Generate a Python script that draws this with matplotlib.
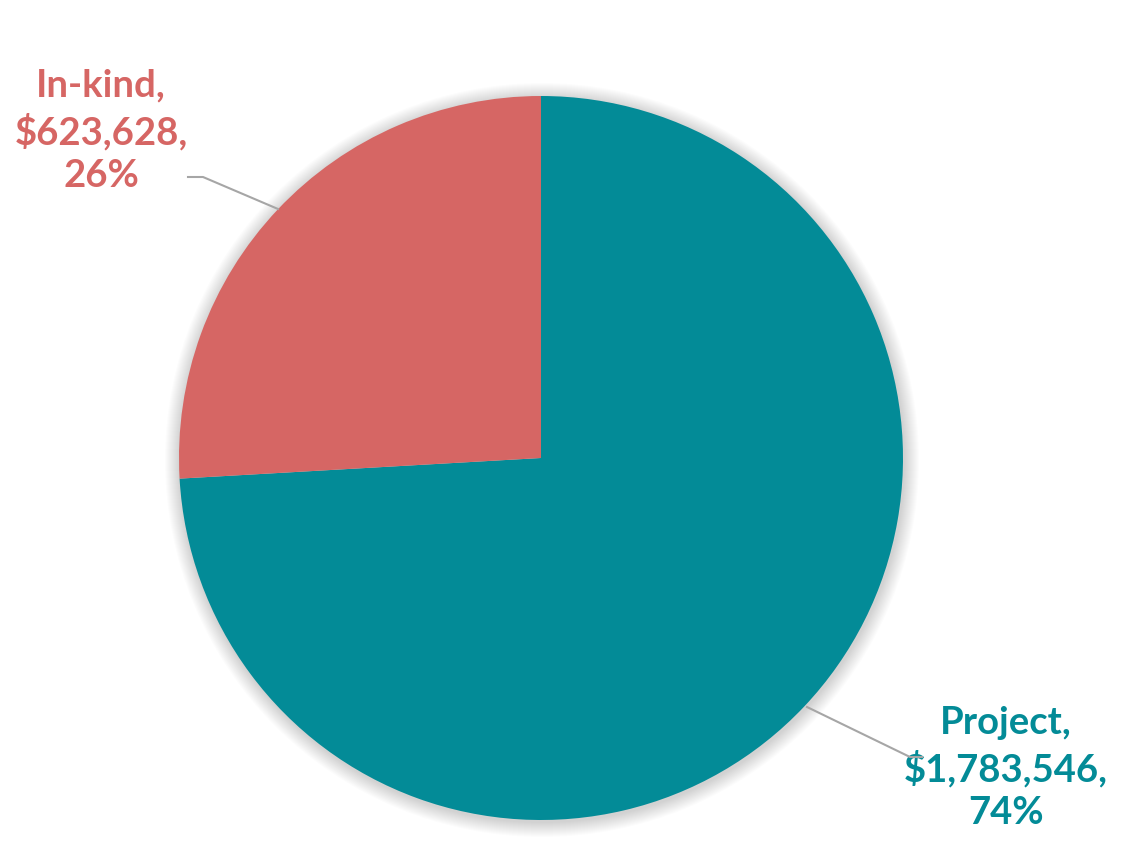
import matplotlib.pyplot as plt
from matplotlib.patches import Circle

labels = ['Project', 'In-kind']
amounts = [1783546, 623628]
colors = ['#038B97', '#D66664']

W, H = 1127, 851
cx, cy, r = 541, H - 458, 362

fig = plt.figure(figsize=(W / 100, H / 100), dpi=100)
ax = fig.add_axes([0, 0, 1, 1])

# soft shadow under the pie
for k in range(1, 16):
    ax.add_patch(Circle((cx + 1, cy - 2), r + k, color='black', alpha=0.012, lw=0, zorder=1))

ax.pie(amounts, colors=colors, startangle=90, counterclock=False,
       center=(cx, cy), radius=r, frame=True,
       wedgeprops=dict(linewidth=0, zorder=2))
ax.set_xlim(0, W)
ax.set_ylim(0, H)
ax.set_aspect('equal')
ax.axis('off')

total = sum(amounts)
txt = [f'{l},\n${v:,.0f},\n{round(v / total * 100):.0f}%' for l, v in zip(labels, amounts)]

font = dict(family='Lato', fontweight='bold', fontsize=27.5, ha='center', va='center',
            linespacing=1.32)
ax.text(1006, H - 768, txt[0], color=colors[0], **font)
ax.text(101, H - 131, txt[1], color=colors[1], **font)

# leader lines
ax.plot([807, 910, 922], [H - 707, H - 757, H - 757], color='#A6A6A6', lw=1.5, zorder=3)
ax.plot([188, 203, 278], [H - 177, H - 177, H - 209], color='#A6A6A6', lw=1.5, zorder=3)

fig.savefig('out.png', dpi=100)
